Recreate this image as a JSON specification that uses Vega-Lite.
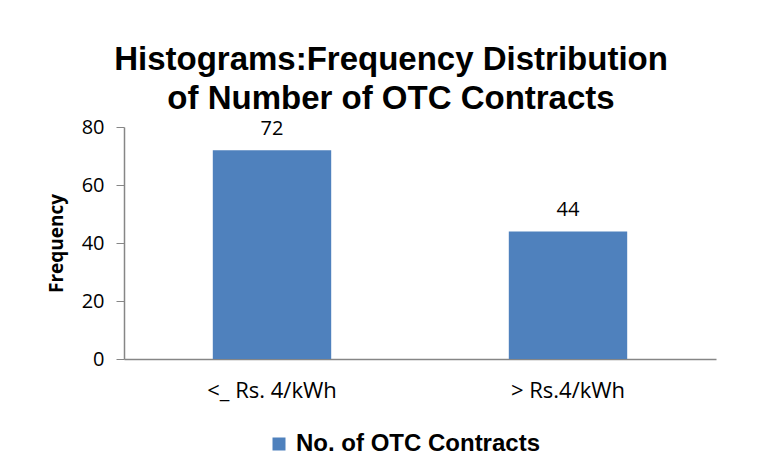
{
  "$schema": "https://vega.github.io/schema/vega-lite/v6.json",
  "width": 592,
  "height": 232,
  "autosize": "none",
  "padding": {"left": 124, "top": 127, "right": 67, "bottom": 115},
  "background": "white",
  "config": {"view": {"stroke": null}},
  "title": {
    "text": ["Histograms:Frequency Distribution", "of Number of OTC Contracts"],
    "font": "Liberation Sans",
    "fontSize": 33,
    "fontWeight": "bold",
    "color": "black",
    "anchor": "middle",
    "dx": -29,
    "lineHeight": 39,
    "offset": 1
  },
  "data": {
    "values": [
      {"category": "<_ Rs. 4/kWh", "count": 72, "series": "No. of OTC Contracts"},
      {"category": "> Rs.4/kWh", "count": 44, "series": "No. of OTC Contracts"}
    ]
  },
  "encoding": {
    "x": {
      "field": "category",
      "type": "nominal",
      "sort": null,
      "scale": {"paddingInner": 0.6, "paddingOuter": 0.3},
      "axis": {
        "title": null,
        "labelAngle": 0,
        "ticks": false,
        "domainColor": "#868686",
        "domainWidth": 1.5,
        "labelFont": "Open Sans",
        "labelFontSize": 22,
        "labelColor": "black",
        "labelPadding": 21
      }
    },
    "y": {
      "field": "count",
      "type": "quantitative",
      "scale": {"domain": [0, 80]},
      "axis": {
        "values": [0, 20, 40, 60, 80],
        "grid": false,
        "title": "Frequency",
        "titleFont": "Open Sans",
        "titleFontSize": 19,
        "titleFontWeight": "bold",
        "titleColor": "black",
        "titlePadding": 15,
        "domainColor": "#868686",
        "domainWidth": 1.5,
        "tickColor": "#868686",
        "tickSize": 8,
        "labelFont": "Open Sans",
        "labelFontSize": 20,
        "labelColor": "black",
        "labelPadding": 12
      }
    }
  },
  "layer": [
    {
      "mark": {"type": "bar"},
      "encoding": {
        "color": {
          "field": "series",
          "type": "nominal",
          "scale": {"range": ["#4F81BD"]},
          "legend": {
            "title": null,
            "orient": "none",
            "legendX": 143,
            "legendY": 305,
            "symbolType": "square",
            "symbolSize": 169,
            "symbolStrokeWidth": 0,
            "labelFont": "Liberation Sans",
            "labelFontSize": 24,
            "labelFontWeight": "bold",
            "labelColor": "black",
            "labelOffset": 5,
            "labelLimit": 500
          }
        }
      }
    },
    {
      "mark": {"type": "text", "baseline": "bottom", "dy": -11, "font": "Open Sans", "fontSize": 20, "color": "black"},
      "encoding": {"text": {"field": "count", "type": "quantitative"}}
    }
  ]
}
